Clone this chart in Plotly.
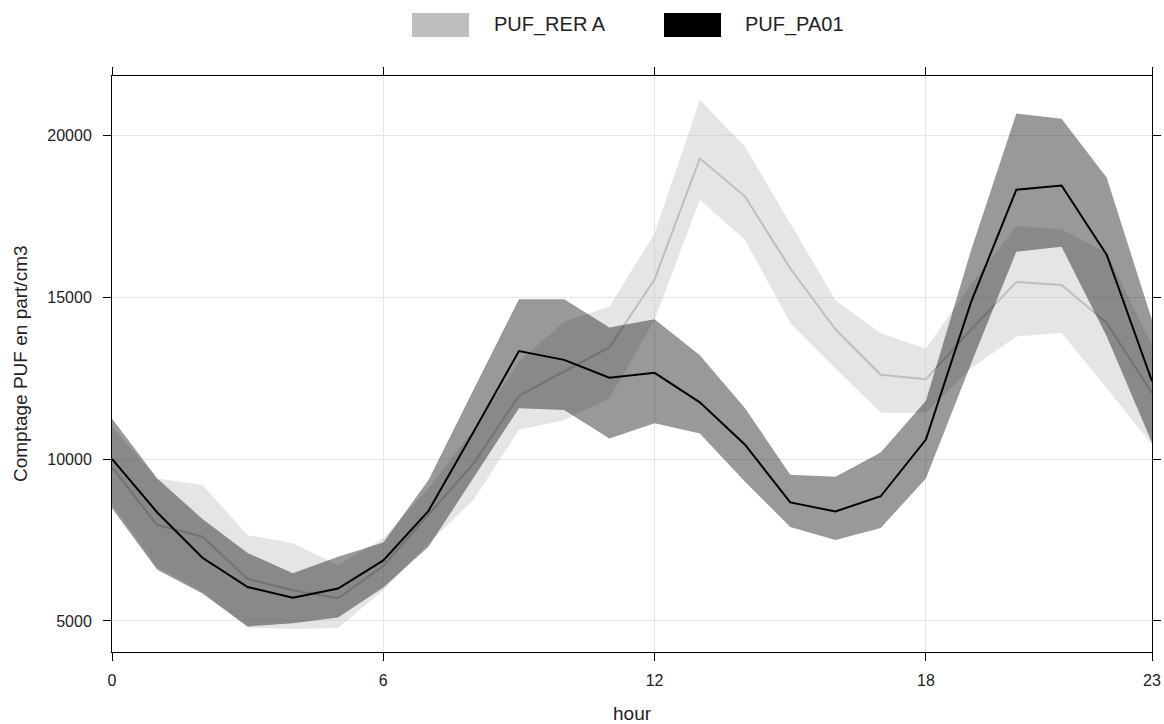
import plotly.graph_objects as go

# Hourly particle counts (part/cm3): mean with lower/upper confidence band
hours = list(range(24))

rer_mean = [9750, 7960, 7600, 6300, 5950, 5700, 6700, 8300, 9870, 11950, 12700, 13450,
            15550, 19280, 18100, 15880, 14000, 12600, 12460, 14000, 15460, 15370, 14200, 12030]
rer_upper = [11000, 9400, 9200, 7650, 7400, 6730, 7550, 9100, 10900, 13000, 14240, 14700,
             16970, 21080, 19640, 17280, 14900, 13880, 13400, 15400, 17190, 17090, 16350, 13500]
rer_lower = [8600, 6650, 5900, 4800, 4750, 4780, 5950, 7400, 8750, 10900, 11200, 11870,
             14290, 18000, 16760, 14200, 12800, 11430, 11430, 12800, 13780, 13900, 12180, 10450]

pa_mean = [10000, 8350, 6950, 6050, 5720, 6000, 6870, 8400, 10850, 13330, 13060, 12510,
           12660, 11750, 10440, 8660, 8380, 8850, 10600, 14850, 18310, 18440, 16300, 12400]
pa_upper = [11250, 9400, 8150, 7100, 6470, 6980, 7420, 9350, 12150, 14930, 14930, 14060,
            14310, 13200, 11570, 9510, 9450, 10200, 11800, 16450, 20660, 20500, 18680, 14290]
pa_lower = [8480, 6580, 5850, 4830, 4930, 5110, 6030, 7290, 9450, 11570, 11510, 10630,
            11100, 10790, 9300, 7900, 7500, 7870, 9400, 12950, 16400, 16550, 13780, 10500]

series_names = ["PUF_RER A", "PUF_PA01"]
x_ticks = [0, 6, 12, 18, 23]
y_ticks = [5000, 10000, 15000, 20000]
y_tick_labels = ["5000", "10000", "15000", "20000"]

FONT = "Liberation Sans, Arial, sans-serif"
W, H = 1164, 724
L, R, T, B = 112, 12, 76, 72


def band(x, lo, hi, color):
    return go.Scatter(x=list(x) + list(x)[::-1], y=list(hi) + list(lo)[::-1],
                      fill="toself", fillcolor=color, mode="lines",
                      line=dict(width=0), hoverinfo="skip", showlegend=False)


fig = go.Figure()
fig.add_trace(band(hours, rer_lower, rer_upper, "rgba(190,190,190,0.4)"))
fig.add_trace(go.Scatter(x=hours, y=rer_mean, mode="lines", name=series_names[0],
                         line=dict(color="#bebebe", width=2), showlegend=False))
fig.add_trace(band(hours, pa_lower, pa_upper, "rgba(0,0,0,0.4)"))
fig.add_trace(go.Scatter(x=hours, y=pa_mean, mode="lines", name=series_names[1],
                         line=dict(color="#000000", width=2), showlegend=False))

axis_common = dict(showline=True, linecolor="black", linewidth=1, mirror="allticks",
                   ticks="outside", ticklen=8, tickcolor="black", tickwidth=1,
                   showgrid=True, gridcolor="#e6e6e6", gridwidth=1, zeroline=False,
                   automargin=False,
                   tickfont=dict(family=FONT, size=16, color="#222"))

fig.update_xaxes(range=[0, 23], tickvals=x_ticks, ticklabelstandoff=6, **axis_common)
fig.update_yaxes(range=[4043, 21821], tickvals=y_ticks, ticktext=y_tick_labels,
                 ticklabelstandoff=8, **axis_common)

pw, ph = W - L - R, H - T - B


def px_x(v):
    return (v - L) / pw


def px_y(v):
    return (H - B - v) / ph


# Legend along the top
shapes = []
annotations = []
legend_items = [(series_names[0], "#bebebe", 412, 492), (series_names[1], "#000000", 664, 743)]
for name, col, rx, tx in legend_items:
    shapes.append(dict(type="rect", xref="paper", yref="paper",
                       x0=px_x(rx), x1=px_x(rx + 57), y0=px_y(37), y1=px_y(13),
                       fillcolor=col, line=dict(width=0)))
    annotations.append(dict(text=name, xref="paper", yref="paper", x=px_x(tx), y=px_y(25),
                            xanchor="left", yanchor="middle", showarrow=False,
                            font=dict(family=FONT, size=20, color="#222")))

# Axis titles
annotations.append(dict(text="hour", xref="paper", yref="paper", x=0.5, y=px_y(713),
                        xanchor="center", yanchor="middle", showarrow=False,
                        font=dict(family=FONT, size=19, color="#222")))
annotations.append(dict(text="Comptage PUF en part/cm3", xref="paper", yref="paper",
                        x=px_x(20), y=0.5, xanchor="center", yanchor="middle",
                        textangle=-90, showarrow=False,
                        font=dict(family=FONT, size=19, color="#222")))

fig.update_layout(width=W, height=H, margin=dict(l=L, r=R, t=T, b=B, autoexpand=False),
                  paper_bgcolor="white", plot_bgcolor="white",
                  shapes=shapes, annotations=annotations, showlegend=False)

fig.write_html("out.html")
